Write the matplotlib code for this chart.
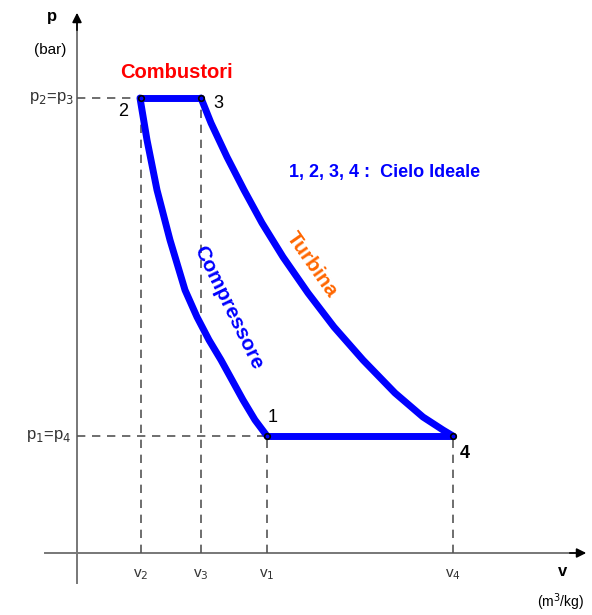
import matplotlib
matplotlib.use("Agg")
from matplotlib import pyplot as plt

plt.rcParams["font.family"] = ["Liberation Sans", "DejaVu Sans"]

# state points (v, p) of the ideal Brayton cycle, arbitrary units
v_pts = {"1": 1.90, "2": 0.64, "3": 1.24, "4": 3.76}
p_low = 1.17
p_high = 4.55

# compressor curve 2 -> 1
comp_v = [0.63, 0.70, 0.80, 0.93, 1.08, 1.20, 1.32, 1.44, 1.55, 1.66, 1.78, 1.90]
comp_p = [4.55, 4.13, 3.63, 3.13, 2.63, 2.36, 2.13, 1.93, 1.73, 1.53, 1.33, 1.17]
# turbine curve 3 -> 4
turb_v = [1.24, 1.34, 1.50, 1.67, 1.85, 2.06, 2.31, 2.57, 2.86, 3.18, 3.46, 3.66, 3.76]
turb_p = [4.55, 4.30, 3.96, 3.63, 3.30, 2.96, 2.60, 2.26, 1.93, 1.60, 1.36, 1.23, 1.17]

BLUE = "#0000ff"
GRID = "#555555"

fig = plt.figure(figsize=(5.92, 6.15), dpi=100)
ax = fig.add_axes([0, 0, 1, 1])
ax.set_xlim(-0.77, 5.15)
ax.set_ylim(-0.62, 5.53)
ax.axis("off")

# axes with arrows
ax.plot([0, 0], [-0.30, 5.30], color="#777777", lw=1.4, zorder=1)
ax.plot([-0.32, 5.0], [0, 0], color="#777777", lw=1.4, zorder=1)
ax.annotate("", xy=(0, 5.43), xytext=(0, 5.2),
            arrowprops=dict(arrowstyle="-|>", color="black", lw=1.2, mutation_scale=14))
ax.annotate("", xy=(5.12, 0), xytext=(4.9, 0),
            arrowprops=dict(arrowstyle="-|>", color="black", lw=1.2, mutation_scale=14))

# dashed guides
dash = dict(color=GRID, lw=1.2, ls=(0, (5, 4)), zorder=2)
ax.plot([0, v_pts["2"]], [p_high, p_high], **dash)
ax.plot([0, v_pts["1"]], [p_low, p_low], **dash)
for k, top in [("2", p_high), ("3", p_high), ("1", p_low), ("4", p_low)]:
    ax.plot([v_pts[k], v_pts[k]], [0, top], **dash)

# cycle
cyc = dict(color=BLUE, lw=5, solid_capstyle="round", solid_joinstyle="round", zorder=3)
ax.plot(comp_v, comp_p, **cyc)
ax.plot(turb_v, turb_p, **cyc)
ax.plot([v_pts["2"], v_pts["3"]], [p_high, p_high], **cyc)
ax.plot([v_pts["1"], v_pts["4"]], [p_low, p_low], **cyc)
ax.plot([v_pts[k] for k in "1234"], [p_low, p_high, p_high, p_low], "o",
        ms=4, mfc="none", mec="black", mew=1.2, zorder=4)

# point labels
ax.text(v_pts["1"] + 0.06, p_low + 0.1, "1", fontsize=13, va="bottom", ha="center")
ax.text(v_pts["2"] - 0.18, p_high - 0.14, "2", fontsize=13, va="center", ha="center")
ax.text(v_pts["3"] + 0.17, p_high - 0.05, "3", fontsize=13, va="center", ha="center")
ax.text(v_pts["4"] + 0.12, p_low - 0.17, "4", fontsize=13, va="center", ha="center",
        fontweight="bold")

# axis labels
ax.text(-0.25, 5.36, "p", fontsize=12, fontweight="bold", ha="center", va="center")
ax.text(-0.27, 5.03, "(bar)", fontsize=11, ha="center", va="center")
ax.text(4.86, -0.19, "v", fontsize=12, fontweight="bold", ha="center", va="center")
ax.text(4.84, -0.49, "(m$^3$/kg)", fontsize=10, ha="center", va="center")
ax.text(-0.03, p_high, "p$_2$=p$_3$", fontsize=12, ha="right", va="center", color="#333333")
ax.text(-0.06, p_low, "p$_1$=p$_4$", fontsize=12, ha="right", va="center", color="#333333")
for k in "2314":
    ax.text(v_pts[k], -0.22, f"v$_{k}$", fontsize=11, ha="center", va="center",
            color="#333333")

# annotations
ax.text(0.99, 4.81, "Combustori", color="red", fontsize=14.5, fontweight="bold",
        ha="center", va="center")
ax.text(3.08, 3.80, "1, 2, 3, 4 :  Cielo Ideale", color=BLUE, fontsize=13,
        fontweight="bold", ha="center", va="center")
ax.text(2.35, 2.88, "Turbina", color="#ff6600", fontsize=15, fontweight="bold",
        rotation=-55, rotation_mode="anchor", ha="center", va="center")
ax.text(1.51, 2.45, "Compressore", color=BLUE, fontsize=15, fontweight="bold",
        rotation=-64, rotation_mode="anchor", ha="center", va="center")

fig.savefig("out.png", dpi=100)
